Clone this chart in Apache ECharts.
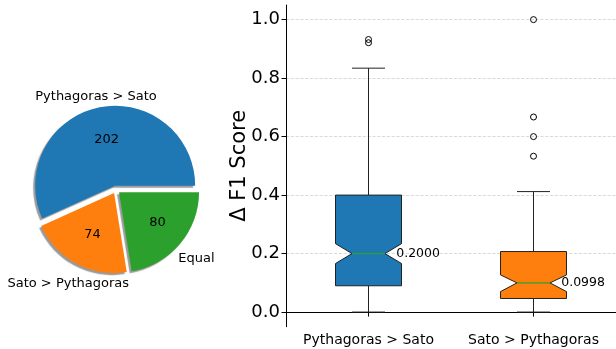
<!DOCTYPE html>
<html>
<head>
<meta charset="utf-8">
<script src="https://cdn.jsdelivr.net/npm/echarts@6/dist/echarts.min.js"></script>
<style>
  html, body { margin: 0; padding: 0; background: #fff; }
  #chart { width: 616px; height: 349px; }
</style>
</head>
<body>
<div id="chart"></div>
<script>
// ---- Pie data ----
const pieNames = ['Pythagoras > Sato', 'Sato > Pythagoras', 'Equal'];
const pieValues = [202, 74, 80];
const pieColors = ['#1f77b4', '#ff7f0e', '#2ca02c'];

// ---- Box plot data ----
const categories = ['Pythagoras > Sato', 'Sato > Pythagoras'];
const boxColors = ['#1f77b4', '#ff7f0e'];
const whiskerLow = [0.0, 0.0];
const q1 = [0.090, 0.0465];
const notchLow = [0.166, 0.070];
const medians = [0.2000, 0.0998];
const notchHigh = [0.234, 0.127];
const q3 = [0.400, 0.207];
const whiskerHigh = [0.834, 0.412];
const outliers = [
  [0.921, 0.932],
  [1.0, 0.667, 0.600, 0.533]
];
const yTicks = [0.0, 0.2, 0.4, 0.6, 0.8, 1.0];

const FONT = 'DejaVu Sans';
const boxData = categories.map((c, i) => [i, whiskerLow[i], q1[i], notchLow[i], medians[i], notchHigh[i], q3[i], whiskerHigh[i]]);
const outlierData = [];
outliers.forEach((arr, i) => arr.forEach(v => outlierData.push([i, v])));

const PIE_C = [116, 189.6];
const PIE_R = 80;
const pieSel = { selectedMode: 'multiple', selectedOffset: 4 };
// horizontal label nudges via padding (layout only): [top, right, bottom, left]
const nameLabelPad = [[0, 0, 0, 0], [0, 0, 0, 6], [0, 2, 0, 0]];
const valueLabelPad = [[0, 0, 0, 3], [0, 0, 0, 2], [0, 0, 0, 5]];

function pieItems(transparent, pads, showOnly) {
  return pieNames.map((n, i) => {
    const item = {
      name: n, value: pieValues[i], selected: true,
      itemStyle: { color: transparent ? 'rgba(0,0,0,0)' : pieColors[i] }
    };
    if (pads || showOnly) {
      item.label = {};
      if (pads) item.label.padding = pads[i];
      if (showOnly) item.label.show = showOnly(i);
    }
    return item;
  });
}

function renderBox(params, api) {
  const i = api.value(0);
  const lo = api.value(1), q1v = api.value(2), nl = api.value(3), med = api.value(4),
        nh = api.value(5), q3v = api.value(6), hi = api.value(7);
  const cx = api.coord([i, med])[0];
  const hw = api.size([1, 0])[0] * 0.2;
  const y = v => api.coord([i, v])[1];
  const stroke = { stroke: '#222', lineWidth: 1, fill: null };
  return {
    type: 'group',
    children: [
      { type: 'line', shape: { x1: cx, y1: y(q3v), x2: cx, y2: y(hi) }, style: stroke },
      { type: 'line', shape: { x1: cx, y1: y(q1v), x2: cx, y2: y(lo) }, style: stroke },
      { type: 'line', shape: { x1: cx - hw / 2, y1: y(hi), x2: cx + hw / 2, y2: y(hi) }, style: stroke },
      { type: 'line', shape: { x1: cx - hw / 2, y1: y(lo), x2: cx + hw / 2, y2: y(lo) }, style: stroke },
      {
        type: 'polygon',
        shape: { points: [
          [cx - hw, y(q3v)], [cx + hw, y(q3v)], [cx + hw, y(nh)], [cx + hw / 2, y(med)],
          [cx + hw, y(nl)], [cx + hw, y(q1v)], [cx - hw, y(q1v)], [cx - hw, y(nl)],
          [cx - hw / 2, y(med)], [cx - hw, y(nh)]
        ] },
        style: { fill: boxColors[i], stroke: '#222', lineWidth: 1 }
      },
      { type: 'line', shape: { x1: cx - hw / 2, y1: y(med), x2: cx + hw / 2, y2: y(med) },
        style: { stroke: '#2ca02c', lineWidth: 1.2 } },
      { type: 'text', x: cx + hw * 0.84, y: y(med),
        style: { text: med.toFixed(4), fontSize: 12.5, fontFamily: FONT, fill: '#000',
                 align: 'left', verticalAlign: 'middle' } }
    ]
  };
}

function labelPie(radius, data, formatter) {
  return Object.assign({
    type: 'pie', center: PIE_C, radius: radius, startAngle: 0, clockwise: false,
    data: data, silent: true, z: 3,
    label: { show: true, position: 'inside', formatter: formatter, fontSize: 13, color: '#000', fontFamily: FONT, rotate: 0 },
    labelLine: { show: false },
    select: { itemStyle: { color: 'rgba(0,0,0,0)', borderWidth: 0 }, label: { color: '#000' } },
    emphasis: { disabled: true }
  }, pieSel);
}

const chart = echarts.init(document.getElementById('chart'));
chart.setOption({
  animation: false,
  backgroundColor: '#fff',
  textStyle: { fontFamily: FONT },
  grid: { left: 286, right: 0, top: 5, bottom: 22.3, containLabel: false, outerBoundsMode: 'none' },
  xAxis: {
    type: 'category', data: categories, boundaryGap: true,
    axisLine: { show: true, lineStyle: { color: '#000', width: 1 } },
    axisTick: { show: true, alignWithLabel: true, length: 4.5, lineStyle: { color: '#000' } },
    axisLabel: { interval: 0, hideOverlap: false, fontSize: 14, color: '#000', fontFamily: FONT, margin: 7 },
    splitLine: { show: false }
  },
  yAxis: {
    type: 'value', min: -0.05, max: 1.05,
    name: 'Δ F1 Score', nameLocation: 'middle', nameGap: 36, nameRotate: 90, nameMoveOverlap: false,
    nameTextStyle: { fontSize: 21, color: '#000', fontFamily: FONT },
    axisLine: { show: true, lineStyle: { color: '#000', width: 1 } },
    axisTick: { show: true, length: 4.5, lineStyle: { color: '#000' }, customValues: yTicks },
    axisLabel: { customValues: yTicks, formatter: v => v.toFixed(1), fontSize: 18, color: '#000', fontFamily: FONT, margin: 6 },
    splitLine: { show: true, lineStyle: { type: 'dashed', color: '#d0d0d0', width: 0.8 } }
  },
  series: [
    Object.assign({
      type: 'pie', center: PIE_C, radius: PIE_R, startAngle: 0, clockwise: false,
      data: pieItems(false), silent: true,
      label: { show: false }, labelLine: { show: false },
      itemStyle: { shadowColor: 'rgba(0,0,0,0.4)', shadowOffsetX: -2, shadowOffsetY: 2, shadowBlur: 1 },
      select: { itemStyle: { shadowColor: 'rgba(0,0,0,0.4)', shadowOffsetX: -2, shadowOffsetY: 2, shadowBlur: 1, borderWidth: 0 } },
      emphasis: { disabled: true }
    }, pieSel),
    // value labels
    labelPie([PIE_R * 0.2, PIE_R * 0.91], pieItems(true, valueLabelPad), '{c}'),
    // name labels (orange, green)
    labelPie([PIE_R * 1.1, PIE_R * 1.4], pieItems(true, nameLabelPad, i => i !== 0), '{b}'),
    // name label (blue)
    labelPie([76, 100], pieItems(true, null, i => i === 0), '{b}'),
    {
      type: 'custom', renderItem: renderBox, data: boxData,
      encode: { x: 0, y: [1, 2, 3, 4, 5, 6, 7] }, silent: true, z: 4
    },
    {
      type: 'scatter', data: outlierData, symbol: 'circle', symbolSize: 6, silent: true, z: 5,
      itemStyle: { color: 'rgba(255,255,255,0)', borderColor: '#000', borderWidth: 1, opacity: 1 }
    }
  ]
});
</script>
</body>
</html>
